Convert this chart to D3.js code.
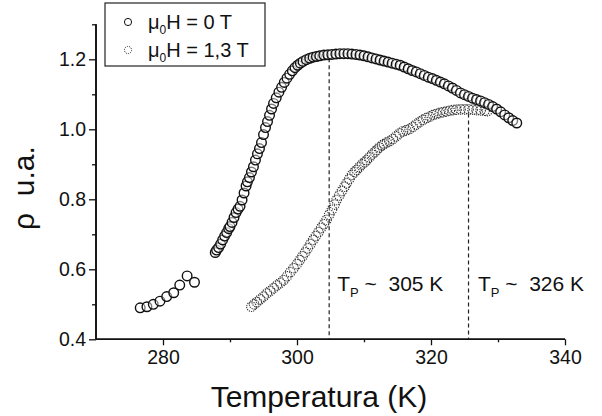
<!DOCTYPE html>
<html><head><meta charset="utf-8">
<script src="https://cdn.jsdelivr.net/npm/d3@7"></script>
<style>body{margin:0;background:#fff}svg{display:block}text{font-family:"Liberation Sans",Arial,sans-serif;fill:#111}</style>
</head><body>
<script>
// ---- data ----
const xTicks = [280, 300, 320, 340];
const xMinor = [290, 310, 330];
const yTicks = [0.4, 0.6, 0.8, 1.0, 1.2];
const yMinor = [0.5, 0.7, 0.9, 1.1, 1.3];

// mu0H = 0 T (low-temperature sparse points + dense curve)
const tempZeroSparse = [276.6, 277.6, 278.55, 279.55, 280.55, 281.6, 282.5, 283.6, 284.7];
const rhoZeroSparse  = [0.490, 0.493, 0.500, 0.509, 0.522, 0.533, 0.555, 0.581, 0.563];

const tempZero = [287.8,288.0,288.3,288.6,288.9,289.2,289.5,289.8,290.0,290.3,290.6,290.9,291.2,291.5,291.8,292.1,292.4,292.6,292.9,293.2,293.5,293.8,294.1,294.4,294.7,295.0,295.3,295.6,295.9,296.2,296.5,296.9,297.3,297.7,298.1,298.5,298.9,299.3,299.7,300.1,300.5,300.9,301.4,301.9,302.4,302.9,303.4,304.0,304.6,305.2,305.8,306.4,307.0,307.6,308.2,308.8,309.4,310.0,310.6,311.2,311.8,312.4,313.0,313.6,314.2,314.8,315.4,316.0,316.6,317.2,317.8,318.4,319.0,319.6,320.2,320.8,321.4,322.0,322.6,323.2,323.8,324.4,325.0,325.6,326.2,326.8,327.4,328.0,328.6,329.2,329.8,330.4,331.0,331.6,332.2,332.8];
const rhoZero  = [0.648,0.655,0.662,0.672,0.684,0.695,0.705,0.716,0.722,0.734,0.748,0.762,0.772,0.780,0.798,0.818,0.838,0.850,0.862,0.878,0.893,0.912,0.930,0.945,0.962,0.985,1.005,1.022,1.040,1.058,1.074,1.090,1.106,1.120,1.134,1.146,1.157,1.167,1.176,1.183,1.189,1.194,1.199,1.203,1.206,1.208,1.210,1.212,1.213,1.214,1.215,1.216,1.216,1.216,1.215,1.214,1.212,1.210,1.207,1.204,1.201,1.198,1.195,1.192,1.189,1.186,1.183,1.178,1.173,1.168,1.164,1.159,1.154,1.149,1.145,1.140,1.135,1.130,1.124,1.118,1.111,1.104,1.099,1.094,1.089,1.085,1.081,1.076,1.071,1.065,1.058,1.050,1.041,1.033,1.025,1.018];

// mu0H = 1,3 T
const tempField = [293.2,293.6,294.0,294.5,295.0,295.5,296.0,296.5,297.0,297.5,298.0,298.5,299.0,299.5,300.0,300.4,300.8,301.2,301.6,302.0,302.4,302.8,303.2,303.6,304.0,304.4,304.8,305.2,305.6,305.9,306.3,306.7,307.1,307.4,307.8,308.2,308.6,308.9,309.3,309.7,310.1,310.4,310.8,311.2,311.6,311.9,312.3,312.7,313.0,313.4,313.8,314.3,314.8,315.3,315.8,316.3,316.8,317.3,317.8,318.3,318.8,319.3,319.8,320.3,320.8,321.3,321.8,322.3,322.8,323.3,323.8,324.4,325.0,325.6,326.2,326.8,327.4,328.0,328.4];
const rhoField  = [0.493,0.500,0.506,0.514,0.522,0.531,0.538,0.546,0.554,0.561,0.569,0.580,0.592,0.603,0.615,0.626,0.637,0.648,0.660,0.672,0.684,0.695,0.706,0.718,0.729,0.741,0.756,0.770,0.785,0.798,0.811,0.824,0.836,0.846,0.858,0.870,0.878,0.884,0.892,0.900,0.906,0.912,0.920,0.928,0.935,0.941,0.948,0.954,0.958,0.962,0.966,0.972,0.980,0.988,0.994,0.997,1.001,1.007,1.014,1.021,1.027,1.032,1.036,1.041,1.044,1.047,1.049,1.051,1.053,1.055,1.056,1.057,1.057,1.057,1.056,1.055,1.054,1.053,1.052];

// transition temperatures (dashed lines) and labels
const tpTemps  = [304.8, 325.6];
const tpTops   = [1.203, 1.045];
const tpLabels = ["305 K", "326 K"];
const tpLabelT = [306.0, 327.0];
const tpLabelRho = 0.539;

const legendLabels = ["0 T", "1,3 T"];

// ---- drawing ----
const W = 602, H = 416;
const svg = d3.select("body").append("svg").attr("width", W).attr("height", H);
const x = d3.scaleLinear().domain([270, 340]).range([96, 565]);
const y = d3.scaleLinear().domain([0.4, 1.3]).range([339.3, 24.3]);

const axisColor = "#111";

// x axis
const gx = svg.append("g").attr("transform", `translate(0,${y(0.4)})`);
gx.call(d3.axisBottom(x).tickValues(xTicks).tickSize(6).tickPadding(5).tickFormat(d3.format("d")));
gx.append("g").call(d3.axisBottom(x).tickValues(xMinor).tickSize(3).tickFormat(""));
gx.selectAll(".domain").attr("stroke", axisColor).attr("stroke-width", 1.6);
gx.selectAll("line").attr("stroke", axisColor).attr("stroke-width", 1.3);
gx.selectAll("text").style("font-size", "19.5px").attr("fill", "#111");
gx.selectAll("path.domain").attr("d", `M${x(270)},0H${x(340)}`);

// y axis
const gy = svg.append("g").attr("transform", `translate(${x(270)},0)`);
gy.call(d3.axisLeft(y).tickValues(yTicks).tickSize(7).tickPadding(3).tickFormat(d3.format(".1f")));
gy.append("g").call(d3.axisLeft(y).tickValues(yMinor).tickSize(4).tickFormat(""));
gy.selectAll(".domain").attr("stroke", axisColor).attr("stroke-width", 1.6);
gy.selectAll("line").attr("stroke", axisColor).attr("stroke-width", 1.3);
gy.selectAll("text").style("font-size", "19.5px").attr("fill", "#111");
gy.selectAll("path.domain").attr("d", `M0,${y(0.4)}V${y(1.3)}`);

// axis titles
svg.append("text").attr("x", 319).attr("y", 407).attr("text-anchor", "middle")
  .style("font-size", "30px").text("Temperatura (K)");
svg.append("text").attr("transform", "translate(34,188) rotate(-90)").attr("text-anchor", "middle")
  .style("font-size", "30px").text("ρ\u00a0\u00a0u.a.");

// dashed transition lines
svg.append("g").selectAll("line").data(tpTemps).join("line")
  .attr("x1", d => x(d)).attr("x2", d => x(d))
  .attr("y1", (d, i) => y(tpTops[i])).attr("y2", y(0.4))
  .attr("stroke", "#222").attr("stroke-width", 1.2).attr("stroke-dasharray", "4,3");

// 1,3 T series (drawn first, underneath)
const fieldData = tempField.map((t, i) => ({t, r: rhoField[i]}));
svg.append("g").selectAll("circle").data(fieldData).join("circle")
  .attr("cx", d => x(d.t)).attr("cy", d => y(d.r)).attr("r", 4.8)
  .attr("fill", "none").attr("stroke", "#333").attr("stroke-width", 1.1).attr("stroke-dasharray", "1.2,1");

// 0 T series
const zeroData = tempZeroSparse.map((t, i) => ({t, r: rhoZeroSparse[i]}))
  .concat(tempZero.map((t, i) => ({t, r: rhoZero[i]})));
svg.append("g").selectAll("circle").data(zeroData).join("circle")
  .attr("cx", d => x(d.t)).attr("cy", d => y(d.r)).attr("r", 4.8)
  .attr("fill", "#fff").attr("fill-opacity", 0.45).attr("stroke", "#111").attr("stroke-width", 1.4);

// Tp labels
tpLabels.forEach((lab, i) => {
  const t = svg.append("text").attr("x", x(tpLabelT[i])).attr("y", y(tpLabelRho)).style("font-size", "21px");
  t.append("tspan").text("T");
  t.append("tspan").attr("dy", 6).style("font-size", "13px").text("P");
  t.append("tspan").attr("dy", -6).text("\u00a0~\u00a0\u00a0" + lab);
});

// legend
svg.append("rect").attr("x", 105).attr("y", 3).attr("width", 160).attr("height", 63)
  .attr("fill", "#fff").attr("stroke", "#222").attr("stroke-width", 1.2);
legendLabels.forEach((lab, i) => {
  const cy = 22 + i * 28;
  svg.append("circle").attr("cx", 128).attr("cy", cy).attr("r", 3.6).attr("fill", "#fff")
    .attr("stroke", i === 0 ? "#111" : "#333").attr("stroke-width", 1)
    .attr("stroke-dasharray", i === 0 ? null : "1.2,1");
  const t = svg.append("text").attr("x", 148).attr("y", cy + 7).style("font-size", "20px");
  t.append("tspan").text("μ");
  t.append("tspan").attr("dy", 5).style("font-size", "12px").text("0");
  t.append("tspan").attr("dy", -5).text("H = " + lab);
});
</script>
</body></html>
